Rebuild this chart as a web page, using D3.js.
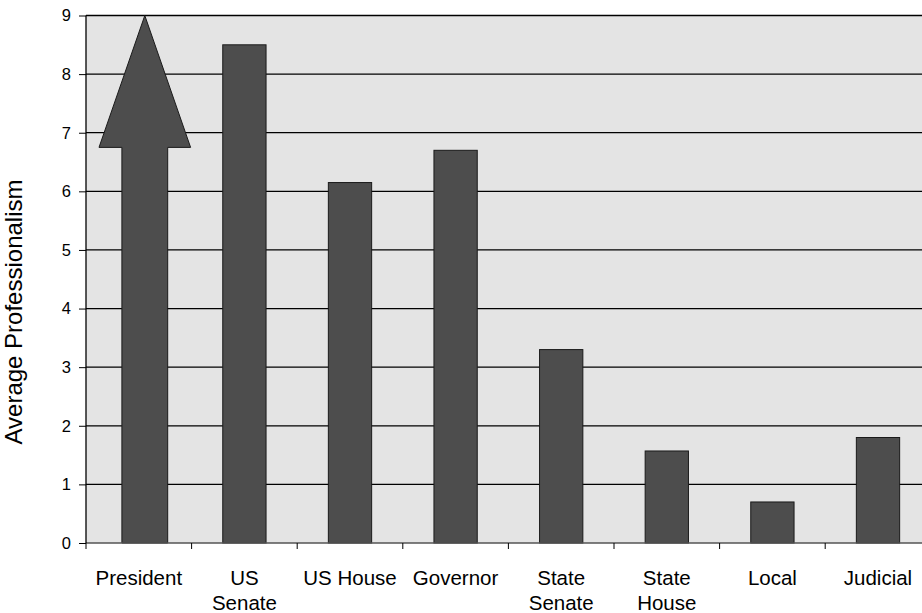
<!DOCTYPE html>
<html>
<head>
<meta charset="utf-8">
<script src="https://cdn.jsdelivr.net/npm/d3@7"></script>
<style>
  body { margin: 0; background: #fff; }
  svg { display: block; font-family: "Liberation Sans", Arial, sans-serif; }
</style>
</head>
<body>
<svg id="chart" width="922" height="613"></svg>
<script>
// data
var categories = ["President", "US Senate", "US House", "Governor", "State Senate", "State House", "Local", "Judicial"];
var labelLines = [["President"], ["US", "Senate"], ["US House"], ["Governor"], ["State", "Senate"], ["State", "House"], ["Local"], ["Judicial"]];
var values = [9, 8.5, 6.15, 6.7, 3.3, 1.57, 0.7, 1.8];
var yTicks = [0, 1, 2, 3, 4, 5, 6, 7, 8, 9];

var margin_left = 86, margin_top = 15.5, plot_h = 527.5, step = 105.6;
var svg = d3.select("#chart");

var x = d3.scaleBand()
    .domain(categories)
    .range([margin_left, margin_left + step * categories.length])
    .paddingInner(0.59)
    .paddingOuter(0.295);

var y = d3.scaleLinear()
    .domain([0, 9])
    .range([margin_top + plot_h, margin_top]);

// background
svg.append("rect")
    .attr("x", margin_left)
    .attr("y", margin_top)
    .attr("width", 922 - margin_left)
    .attr("height", plot_h)
    .attr("fill", "#e4e4e4");

// grid
svg.append("g").selectAll("line")
    .data(yTicks.filter(function(d){ return d > 0; }))
    .enter().append("line")
    .attr("x1", margin_left)
    .attr("x2", 922)
    .attr("y1", function(d){ return y(d); })
    .attr("y2", function(d){ return y(d); })
    .style("stroke", "#000")
    .style("stroke-width", "1.3px");

// bars (President is drawn as an arrow below)
svg.append("g").selectAll("rect")
    .data(categories.slice(1))
    .enter().append("rect")
    .attr("x", function(d){ return x(d); })
    .attr("y", function(d){ return y(values[categories.indexOf(d)]); })
    .attr("width", x.bandwidth())
    .attr("height", function(d){ return y(0) - y(values[categories.indexOf(d)]); })
    .attr("fill", "#4d4d4d")
    .attr("stroke", "#1a1a1a")
    .attr("stroke-width", 1);

// President arrow
var cx = x("President") + x.bandwidth() / 2 + 6;
var bodyW = x.bandwidth() + 2.5, headW = bodyW * 2, headBase = 6.75;
var arrow = [
    [cx - bodyW / 2, y(0)],
    [cx - bodyW / 2, y(headBase)],
    [cx - headW / 2, y(headBase)],
    [cx, y(values[0])],
    [cx + headW / 2, y(headBase)],
    [cx + bodyW / 2, y(headBase)],
    [cx + bodyW / 2, y(0)]
];
svg.append("path")
    .attr("d", d3.line()(arrow) + "Z")
    .attr("fill", "#4d4d4d")
    .attr("stroke", "#1a1a1a")
    .attr("stroke-width", 1);

// x axis line and ticks
svg.append("line")
    .attr("x1", margin_left).attr("x2", 922)
    .attr("y1", y(0)).attr("y2", y(0))
    .style("stroke", "#555")
    .style("stroke-width", "1.5px");

var bounds = categories.map(function(d){ return x(d) - (step - x.bandwidth()) / 2; });
svg.append("g").selectAll("line")
    .data(bounds)
    .enter().append("line")
    .attr("x1", function(d){ return d; })
    .attr("x2", function(d){ return d; })
    .attr("y1", y(0))
    .attr("y2", y(0) + 6)
    .style("stroke", "#000")
    .style("stroke-width", "1px");

// left border
svg.append("line")
    .attr("x1", margin_left).attr("x2", margin_left)
    .attr("y1", margin_top).attr("y2", y(0))
    .style("stroke", "#000")
    .style("stroke-width", "1.3px");

// y axis
var yAxis = svg.append("g")
    .attr("transform", "translate(" + margin_left + ",0)")
    .call(d3.axisLeft(y).tickValues(yTicks).tickSize(7).tickPadding(8).tickFormat(d3.format("d")));
yAxis.select(".domain").remove();
yAxis.selectAll("text")
    .attr("font-size", 16.5)
    .attr("font-family", "Liberation Sans, Arial, sans-serif")
    .attr("fill", "#000");
yAxis.selectAll("line").style("stroke", "#000");

// x labels
var xl = svg.append("g").selectAll("text")
    .data(categories)
    .enter().append("text")
    .attr("x", function(d){ return x(d) + x.bandwidth() / 2; })
    .attr("y", y(0) + 42)
    .attr("text-anchor", "middle")
    .attr("font-size", 20.5)
    .attr("fill", "#000");
xl.each(function(d, i){
    var t = d3.select(this);
    labelLines[i].forEach(function(line, j){
        t.append("tspan")
            .attr("x", x(d) + x.bandwidth() / 2)
            .attr("dy", j === 0 ? 0 : 25)
            .text(line);
    });
});

// y label
svg.append("text")
    .text("Average Professionalism")
    .attr("transform", "translate(22,312) rotate(-90)")
    .attr("text-anchor", "middle")
    .attr("font-size", 24)
    .attr("fill", "#000");
</script>
</body>
</html>
